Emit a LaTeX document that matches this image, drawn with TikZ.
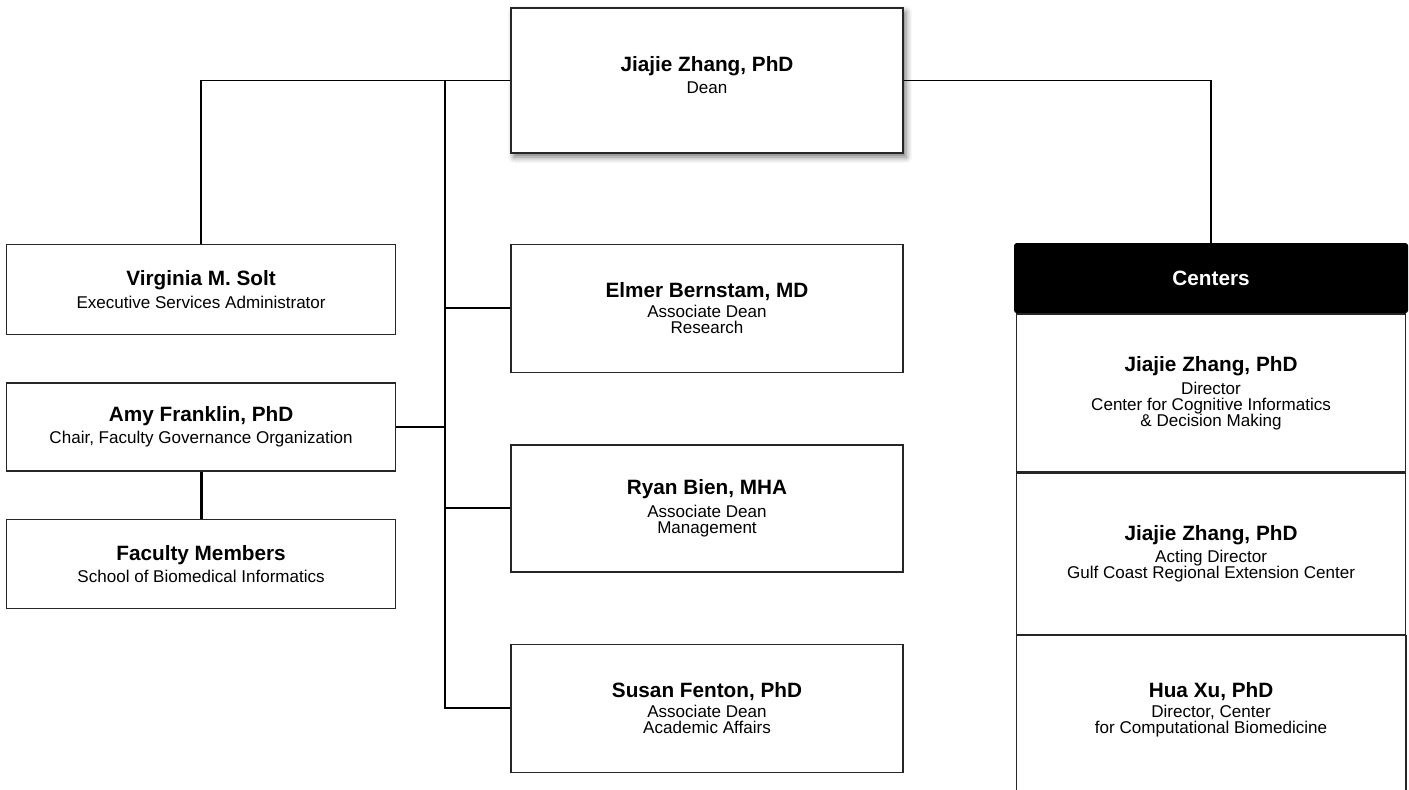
\documentclass[tikz,border=0pt]{standalone}
\usepackage{fontspec}
\setmainfont{Liberation Sans}
\usetikzlibrary{positioning,calc,shadows.blur}

\newcommand{\person}[2]{{\fontsize{11.8}{12}\selectfont\bfseries #1}\\[2.2pt]#2}

\begin{document}
\begin{tikzpicture}[%
	node distance=1.42cm,
	every node/.style={font=\fontsize{9.7}{9.1}\selectfont, align=center, inner sep=0pt},
	box/.style={draw=black!85, line width=0.8pt, fill=white, minimum width=7.84cm},
	lbox/.style={box, minimum width=7.78cm},
	head/.style={fill=black, text=white, rounded corners=1.5pt, minimum width=7.88cm, minimum height=1.4cm, font=\fontsize{11.8}{12}\selectfont\bfseries},
	ctr/.style={draw=black!85, line width=0.8pt, minimum width=7.78cm},
	line/.style={draw, line width=1.1pt},
	fat/.style={draw, line width=1.7pt}
]
\useasboundingbox (-14.14,1.61) rectangle (14.04,-14.17);

\node[box, minimum height=2.9cm, blur shadow={shadow xshift=0.06cm, shadow yshift=-0.08cm, shadow blur radius=0.12cm, shadow opacity=55}] (dean) at (0,0) {\person{Jiajie Zhang, PhD}{Dean}\\[-0.11cm]};

% left column
\node[lbox, minimum height=1.8cm]  (vs) [below left=1.80cm and 2.28cm of dean] {\person{Virginia M. Solt}{Executive Services Administrator}};
\node[lbox, minimum height=1.76cm] (af) [below=0.94cm of vs] {\person{Amy Franklin, PhD}{Chair, Faculty Governance Organization}};
\node[lbox, minimum height=1.78cm] (fm) [below=0.94cm of af] {\person{Faculty Members}{School of Biomedical Informatics}};

% middle column
\node[box, minimum height=2.56cm] (eb) [below=1.80cm of dean] {\person{Elmer Bernstam, MD}{Associate Dean\\Research}};
\node[box, minimum height=2.54cm] (rb) [below=of eb] {\person{Ryan Bien, MHA}{Associate Dean\\Management}};
\node[box, minimum height=2.56cm] (sf) [below=of rb] {\person{Susan Fenton, PhD}{Associate Dean\\Academic Affairs}};

% centers
\node[head] (hd) [below right=1.78cm and 2.2cm of dean] {Centers};
\node[ctr, minimum height=3.16cm] (c1) [below=0pt of hd] {\person{Jiajie Zhang, PhD}{Director\\Center for Cognitive Informatics\\\& Decision Making}};
\node[ctr, minimum height=3.22cm] (c2) [below=0pt of c1] {\person{Jiajie Zhang, PhD}{Acting Director\\Gulf Coast Regional Extension Center}};
\node[minimum width=7.78cm, minimum height=2.96cm] (c3) [below=0pt of c2] {\person{Hua Xu, PhD}{Director, Center\\for Computational Biomedicine}};
\draw[black!85, line width=0.8pt] ($(c3.south west)+(0,-0.4)$) -- (c3.north west) -- (c3.north east) -- ($(c3.south east)+(0,-0.4)$);

\coordinate (trunk) at ($(dean.west)+(-1.3,0)$);

\path[line] (dean.west) -| (vs.north);
\path[line] (dean.east) -| (hd.north);
\path[line] (trunk) |- (sf.west);
\path[line] (trunk |- eb.west) -- (eb.west);
\path[line] (trunk |- rb.west) -- (rb.west);
\path[line] (af.east) -- (af.east -| trunk);
\path[fat] (af.south) -- (fm.north);

\end{tikzpicture}
\end{document}
